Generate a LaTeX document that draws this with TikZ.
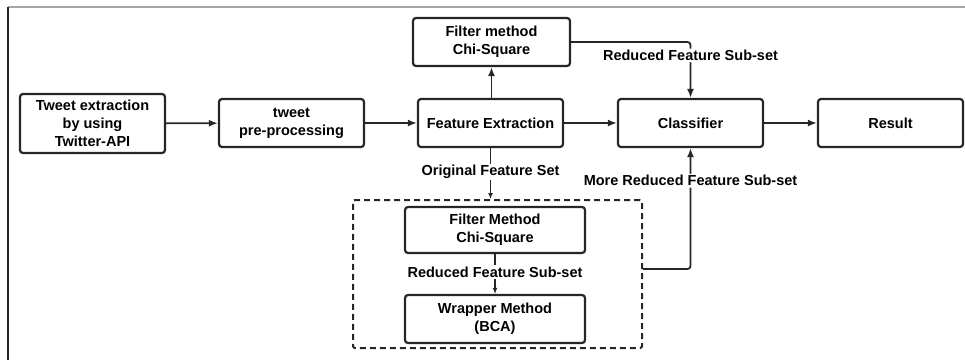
\documentclass[tikz,border=0pt]{standalone}
\usepackage{fontspec}
\setmainfont{Liberation Sans}
\usetikzlibrary{positioning,arrows.meta,calc}

\begin{document}
\begin{tikzpicture}[x=1pt,y=-1pt,
    box/.style={draw=black!85, line width=2.2pt, rounded corners=3pt, align=center,
        font=\bfseries\fontsize{14.5}{18}\selectfont, inner sep=2pt},
    lbl/.style={fill=white, font=\bfseries\fontsize{14.5}{17}\selectfont, inner sep=1.5pt},
    conn/.style={draw=black!85, line width=1.8pt, rounded corners=3pt, -{Latex[length=9pt,width=7pt]}},
    connsmall/.style={draw=black!85, line width=1.1pt, -{Latex[length=6pt,width=5pt]}}]
    \useasboundingbox (0,0) rectangle (965,360);

    % Frame
    \draw[gray!70, line width=1.4pt] (8,7) -- (965,7);
    \draw[black!85, line width=1.4pt] (8,7) -- (8,360);

    % Main chain
    \node[box, minimum width=145pt, minimum height=59pt] (tweet) at (92.5,123.5) {Tweet extraction\\by using\\Twitter-API};
    \node[box, minimum width=145pt, minimum height=48pt] (prep) at (291.5,123) {tweet\\pre-processing};
    \node[box, minimum width=145pt, minimum height=48pt] (feat) at (490.5,123) {Feature Extraction};
    \node[box, minimum width=145pt, minimum height=48pt] (clf) at (690.5,123) {Classifier};
    \node[box, minimum width=145pt, minimum height=48pt] (res) at (890.5,123) {Result};

    % Filter on top
    \node[box, minimum width=157pt, minimum height=48pt] (filtA) at (491.5,42) {Filter method\\Chi-Square};

    % Hybrid group
    \node[draw=black!85, line width=2pt, dash pattern=on 6pt off 4pt, rounded corners=2pt,
        minimum width=289pt, minimum height=148pt] (grp) at (497.5,274) {};
    \node[box, minimum width=180pt, minimum height=46pt] (filtB) at (495,230) {Filter Method\\Chi-Square};
    \node[box, minimum width=180pt, minimum height=48pt] (wrap) at (495,319) {Wrapper Method\\(BCA)};

    % Connectors
    \draw[conn] (tweet) -- (prep);
    \draw[conn] (prep) -- (feat);
    \draw[conn] (feat) -- (clf);
    \draw[conn] (clf) -- (res);
    \draw[conn] (feat.north -| filtA) -- (filtA.south);
    \draw[conn] (filtA.east) -| node[lbl, pos=0.62] (redA) {Reduced Feature Sub-set} (clf.north);
    \draw[connsmall, line width=1.6pt] (feat.south) -- node[lbl, pos=0.47] (orig) {Original Feature Set} (grp.north -| feat);
    \draw[connsmall] (filtB) -- node[lbl, pos=0.45] (redB) {Reduced Feature Sub-set} (wrap);
    \draw[conn] (grp.east |- 0,269) -| node[lbl, pos=0.865] (moreRed) {More Reduced Feature Sub-set} (clf.south);
\end{tikzpicture}
\end{document}
